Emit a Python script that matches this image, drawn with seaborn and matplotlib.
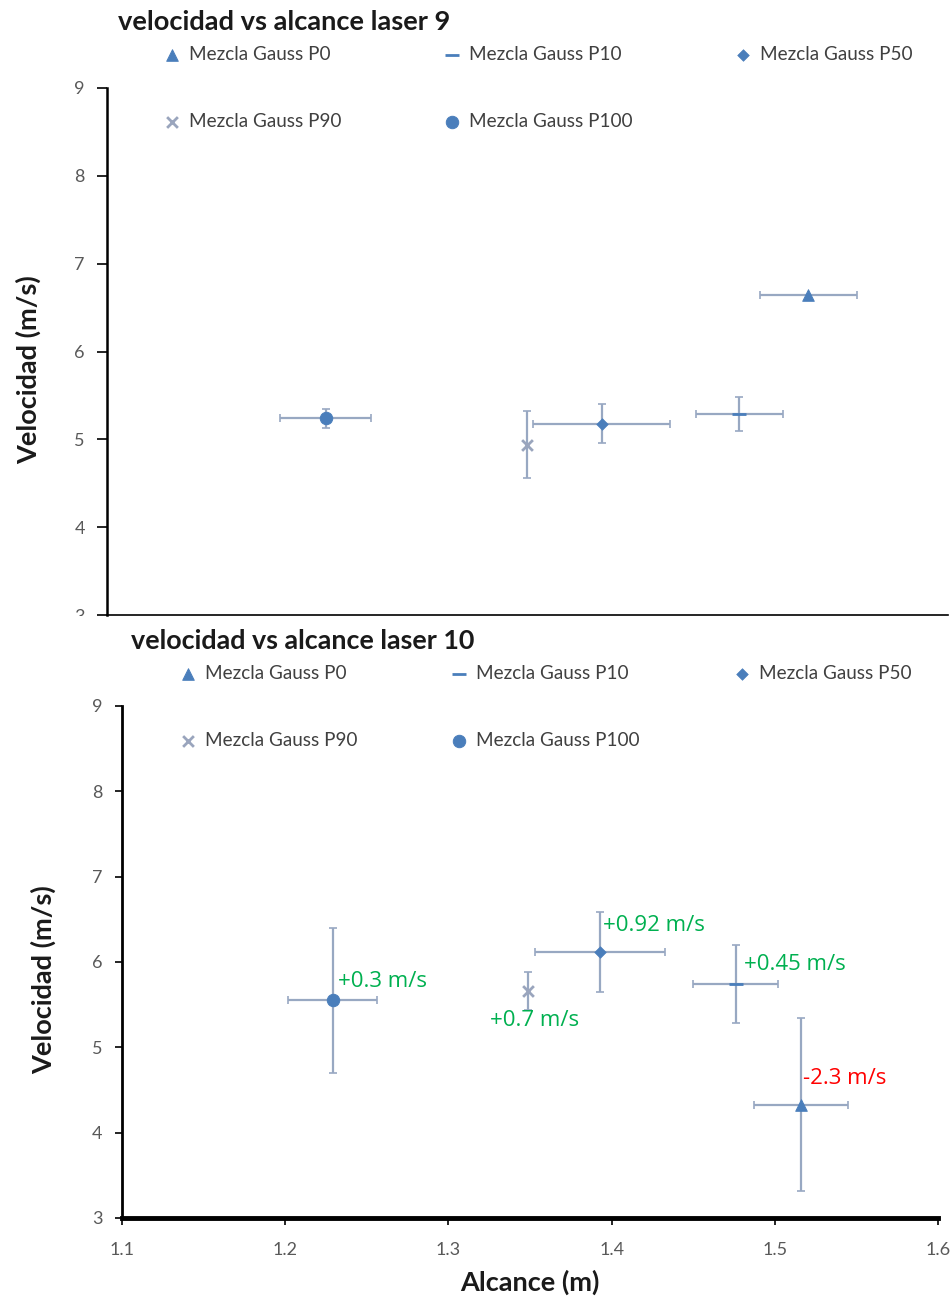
import numpy as np
import seaborn as sns
import matplotlib.pyplot as plt
from matplotlib.patches import Rectangle

sns.set_theme(style="white")
plt.rcParams['font.family'] = ['Lato', 'DejaVu Sans']

# series order: P0, P10, P50, P90, P100
series = ["Mezcla Gauss P0", "Mezcla Gauss P10", "Mezcla Gauss P50",
          "Mezcla Gauss P90", "Mezcla Gauss P100"]
markers = ["^", "_", "D", "x", "o"]
sizes = [70, 90, 35, 60, 80]

# laser 9
alcance_9 = [1.517, 1.476, 1.394, 1.350, 1.230]
velocidad_9 = [6.64, 5.29, 5.18, 4.94, 5.24]
xerr_9 = [0.029, 0.026, 0.041, 0.0, 0.027]
yerr_9 = [0.0, 0.19, 0.22, 0.38, 0.11]

# laser 10
alcance_10 = [1.516, 1.476, 1.393, 1.349, 1.229]
velocidad_10 = [4.33, 5.74, 6.12, 5.66, 5.55]
xerr_10 = [0.029, 0.026, 0.040, 0.0, 0.027]
yerr_10 = [1.01, 0.46, 0.47, 0.22, 0.85]

# notes on laser 10 (per series) and their pixel offsets
notas_10 = ["-2.3 m/s", "+0.45 m/s", "+0.92 m/s", "+0.7 m/s", "+0.3 m/s"]
notas_col = ["#ff0000", "#00b050", "#00b050", "#00b050", "#00b050"]
notas_off = [(2, 26), (8, 20), (3, 26), (-38, -29), (5, 19)]

blue = "#4a7ebb"
grey_x = "#9aa5bd"
err_col = "#98a8c2"

W, H = 953, 1298
fig = plt.figure(figsize=(W / 100, H / 100), dpi=100)
ax1 = fig.add_axes([107 / W, 1 - 615 / H, (948 - 107) / W, (615 - 88) / H])
ax2 = fig.add_axes([122 / W, 1 - 1218 / H, (938 - 122) / W, (1218 - 706) / H])


def draw_panel(ax, xs, ys, xe, ye):
    ax.errorbar(xs, ys, xerr=xe, yerr=ye, fmt="none", ecolor=err_col,
                elinewidth=1.6, capsize=3, capthick=1.2, zorder=2)
    for i, name in enumerate(series):
        col = grey_x if markers[i] == "x" else blue
        if markers[i] in ("x", "_"):
            sns.scatterplot(x=[xs[i]], y=[ys[i]], marker=markers[i], s=sizes[i],
                            color=col, linewidth=2, label=name, ax=ax, zorder=3)
        else:
            sns.scatterplot(x=[xs[i]], y=[ys[i]], marker=markers[i], s=sizes[i],
                            color=col, edgecolor=col, label=name, ax=ax, zorder=3)
    ax.set_xlim(1.1, 1.6)
    ax.set_ylim(3, 9)
    ax.set_yticks(np.arange(3, 10, 1))
    ax.set_xticks([1.1, 1.2, 1.3, 1.4, 1.5, 1.6])
    ax.set_xticklabels(["1.1", "1.2", "1.3", "1.4", "1.5", "1.6"])
    for s in ("top", "right"):
        ax.spines[s].set_visible(False)
    ax.spines["left"].set_color("black")
    ax.spines["bottom"].set_color("black")
    ax.tick_params(axis="both", labelsize=13, labelcolor="#595959",
                   color="black", length=6, width=1.2, left=True, bottom=True)
    handles, labels = ax.get_legend_handles_labels()
    order = [0, 3, 1, 4, 2]
    ax.get_legend().remove()
    return [handles[k] for k in order], [labels[k] for k in order]


h1, l1 = draw_panel(ax1, alcance_9, velocidad_9, xerr_9, yerr_9)
h2, l2 = draw_panel(ax2, alcance_10, velocidad_10, xerr_10, yerr_10)

ax1.tick_params(axis="x", length=0, labelbottom=False)
ax1.tick_params(axis="y", length=7, pad=9)
ax2.tick_params(axis="y", length=5, pad=9)
ax2.tick_params(axis="x", length=5, pad=12)
ax1.spines["left"].set_linewidth(1.8)
ax1.spines["bottom"].set_linewidth(1.2)
ax2.spines["left"].set_linewidth(2)
ax2.spines["bottom"].set_linewidth(3.5)

for ax, hh, ll, x0, y0, cs in [(ax1, h1, l1, 166, 46, 5.56),
                               (ax2, h2, l2, 182, 665, 5.1)]:
    leg = ax.legend(hh, ll, ncol=3, loc="upper left",
                    bbox_to_anchor=(x0 / W, 1 - y0 / H),
                    bbox_transform=fig.transFigure, frameon=False,
                    fontsize=13.6, borderpad=0, borderaxespad=0,
                    handlelength=0.6, handletextpad=0.6,
                    columnspacing=cs, labelspacing=2.65)
    for t in leg.get_texts():
        t.set_color("#404040")

fig.text(118 / W, 1 - 22 / H, "velocidad vs alcance laser 9", fontsize=19.6,
         fontweight="bold", color="#1a1a1a", va="center", ha="left")
fig.text(131 / W, 1 - 641 / H, "velocidad vs alcance laser 10", fontsize=19.4,
         fontweight="bold", color="#1a1a1a", va="center", ha="left")

ax1.set_ylabel("Velocidad (m/s)", fontsize=19.5, fontweight="bold", color="#1a1a1a")
ax1.yaxis.set_label_coords(-66 / (948 - 107), 0.465)
ax2.set_ylabel("Velocidad (m/s)", fontsize=19.5, fontweight="bold", color="#1a1a1a")
ax2.yaxis.set_label_coords(-66 / (938 - 122), 0.465)
ax2.set_xlabel("Alcance (m)", fontsize=19.5, fontweight="bold", color="#1a1a1a")
ax2.xaxis.set_label_coords(0.5, -(1282 - 1218) / (1218 - 706))
ax2.xaxis.label.set_va("center")

for i in range(len(series)):
    ax2.annotate(notas_10[i], xy=(alcance_10[i], velocidad_10[i]),
                 xytext=notas_off[i], textcoords="offset pixels",
                 fontsize=16, color=notas_col[i], ha="left", va="center",
                 family=["Open Sans", "DejaVu Sans"])

# the top chart is cut off just under its x axis
fig.add_artist(Rectangle((0, 1 - 627 / H), 0.11, 11 / H, transform=fig.transFigure,
                         facecolor="white", edgecolor="none", zorder=5))

fig.savefig("out.png", dpi=100)
